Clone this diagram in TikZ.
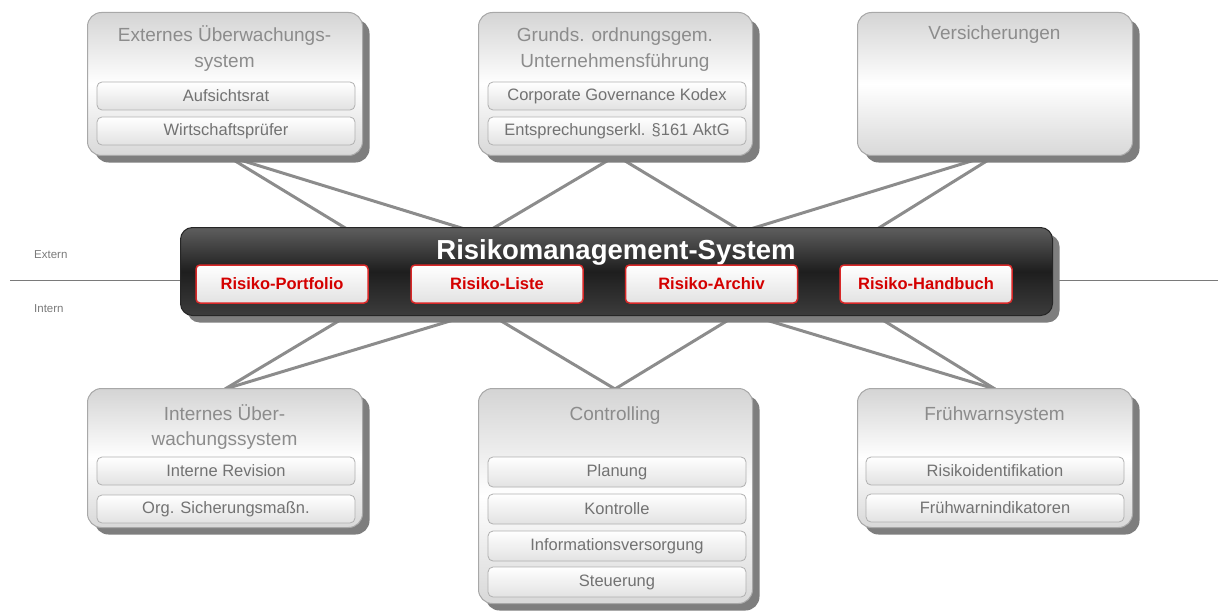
\documentclass[tikz,border=0pt]{standalone}
\usepackage{fontspec}
\setmainfont{Liberation Sans}
\usetikzlibrary{shadows,backgrounds,calc}
\definecolor{boxline}{HTML}{A8A8A8}
\definecolor{boxtop}{HTML}{D4D4D4}
\definecolor{boxbot}{HTML}{D8D8D8}
\definecolor{shadowc}{HTML}{7E7E7E}
\definecolor{titlec}{HTML}{8C8C8C}
\definecolor{subline}{HTML}{B0B0B0}
\definecolor{subbot}{HTML}{E2E2E2}
\definecolor{subtext}{HTML}{727272}
\definecolor{dtop}{HTML}{5E5E5E}
\definecolor{dmid}{HTML}{1E1E1E}
\definecolor{dbot}{HTML}{3C3C3C}
\definecolor{redline}{HTML}{D82828}
\definecolor{redtext}{HTML}{D40000}
\definecolor{linec}{HTML}{8C8C8C}
\definecolor{sepc}{HTML}{7A7A7A}
\tikzset{
  bigbox/.style={draw=boxline, line width=1pt, rounded corners=14pt,
    top color=boxtop, bottom color=boxbot, middle color=white,
    anchor=north west, inner sep=0pt, minimum width=275,
    drop shadow={shadow xshift=7pt, shadow yshift=-7pt, fill=shadowc, opacity=1}},
  titletext/.style={anchor=base, inner sep=0pt, text=titlec, font=\fontsize{19}{24}\selectfont},
  subbox/.style={draw=subline, line width=0.8pt, rounded corners=5pt,
    top color=white, bottom color=subbot, minimum width=258, minimum height=28,
    inner sep=0pt, text=subtext, font=\fontsize{16.5}{18}\selectfont},
  darkbox/.style={draw=black!85, line width=1pt, rounded corners=12pt,
    top color=dtop, bottom color=dbot, middle color=dmid,
    anchor=north west, inner sep=0pt, minimum width=872, minimum height=88,
    drop shadow={shadow xshift=7pt, shadow yshift=-7pt, fill=shadowc, opacity=1}},
  redbox/.style={draw=redline, line width=1.5pt, rounded corners=4pt,
    top color=white, bottom color=subbot, minimum width=172, minimum height=38,
    inner sep=0pt, text=redtext, font=\fontsize{16.5}{18}\selectfont\bfseries},
  link/.style={draw=linec, line width=3pt},
  sepline/.style={draw=sepc, line width=0.8pt},
  sidetext/.style={anchor=base west, inner sep=0pt, text=sepc, font=\fontsize{11.5}{13}\selectfont}
}
\begin{document}
\begin{tikzpicture}[x=1pt,y=-1pt]
\useasboundingbox (0,0) rectangle (1218,615);

% top boxes
\node[bigbox, minimum height=143] (tl) at (87,12) {};
\node[titletext] (tlt1) at (224.5,42) {Externes Überwachungs-};
\node[titletext] (tlt2) at (224.5,68) {system};
\node[subbox] (tls1) at (226,96) {Aufsichtsrat};
\node[subbox] (tls2) at (226,131) {Wirtschaftsprüfer};

\node[bigbox, minimum height=143, minimum width=274] (tm) at (478,12) {};
\node[titletext] (tmt1) at (615,42) {Grunds. ordnungsgem.};
\node[titletext] (tmt2) at (615,68) {Unternehmensführung};
\node[subbox] (tms1) at (617,96) {Corporate Governance Kodex};
\node[subbox] (tms2) at (617,131) {Entsprechungserkl. §161 AktG};

\node[bigbox, minimum height=143] (tr) at (857,12) {};
\node[titletext] (trt1) at (994.5,40) {Versicherungen};

% central box
\node[darkbox] (rms) at (180,227) {};
\node[anchor=base, inner sep=0pt, text=white, font=\fontsize{27.5}{30}\selectfont\bfseries] (rmst) at (616,259) {Risikomanagement-System};
\node[redbox] (r1) at (282,284) {Risiko-Portfolio};
\node[redbox] (r2) at (497,284) {Risiko-Liste};
\node[redbox] (r3) at (711.5,284) {Risiko-Archiv};
\node[redbox] (r4) at (926,284) {Risiko-Handbuch};

% bottom boxes
\node[bigbox, minimum height=139] (bl) at (87,388) {};
\node[titletext] (blt1) at (224.5,420) {Internes Über-};
\node[titletext] (blt2) at (224.5,445) {wachungssystem};
\node[subbox] (bls1) at (226,471) {Interne Revision};
\node[subbox] (bls2) at (226,509) {Org. Sicherungsmaßn.};

\node[bigbox, minimum height=215, minimum width=274] (bc) at (478,388) {};
\node[titletext] (bct1) at (615,420) {Controlling};
\node[subbox, minimum height=30] (bcs1) at (617,472) {Planung};
\node[subbox, minimum height=30] (bcs2) at (617,509) {Kontrolle};
\node[subbox, minimum height=30] (bcs3) at (617,546) {Informationsversorgung};
\node[subbox, minimum height=30] (bcs4) at (617,582) {Steuerung};

\node[bigbox, minimum height=139] (br) at (857,388) {};
\node[titletext] (brt1) at (994.5,420) {Frühwarnsystem};
\node[subbox] (brs1) at (995,471) {Risikoidentifikation};
\node[subbox] (brs2) at (995,508) {Frühwarnindikatoren};

% side labels
\node[sidetext] (ext) at (34,258) {Extern};
\node[sidetext] (int) at (34,312) {Intern};
\coordinate (sepL) at (10,280);
\coordinate (sepR) at (1218,280);

\begin{scope}[on background layer]
  \draw[sepline] (sepL) -- (sepL -| rms.west);
  \draw[sepline] (sepR) -- (sepR -| rms.east);
  % top connectors
  \draw[link] ($(tl.south west)+(143.3,2)$) -- ($(rms.north west)+(166.9,2)$);
  \draw[link] ($(tl.south west)+(146.8,2)$) -- ($(rms.north west)+(284.6,2)$);
  \draw[link] ($(tm.south west)+(134,2)$) -- ($(rms.north west)+(312,2)$);
  \draw[link] ($(tm.south west)+(142.2,2)$) -- ($(rms.north west)+(557.9,2)$);
  \draw[link] ($(tr.south west)+(124.2,2)$) -- ($(rms.north west)+(570.4,2)$);
  \draw[link] ($(tr.south west)+(134.5,2)$) -- ($(rms.north west)+(697.2,2)$);
  % bottom connectors
  \draw[link] ($(bl.north west)+(138,1)$) -- ($(rms.south west)+(171.9,-3)$);
  \draw[link] ($(bl.north west)+(138,1)$) -- ($(rms.south west)+(296.5,-3)$);
  \draw[link] ($(bc.north west)+(137,1)$) -- ($(rms.south west)+(307.8,-3)$);
  \draw[link] ($(bc.north west)+(137,1)$) -- ($(rms.south west)+(559.9,-3)$);
  \draw[link] ($(br.north west)+(138,1)$) -- ($(rms.south west)+(562.9,-3)$);
  \draw[link] ($(br.north west)+(138,1)$) -- ($(rms.south west)+(691.3,-3)$);
\end{scope}
\end{tikzpicture}
\end{document}
